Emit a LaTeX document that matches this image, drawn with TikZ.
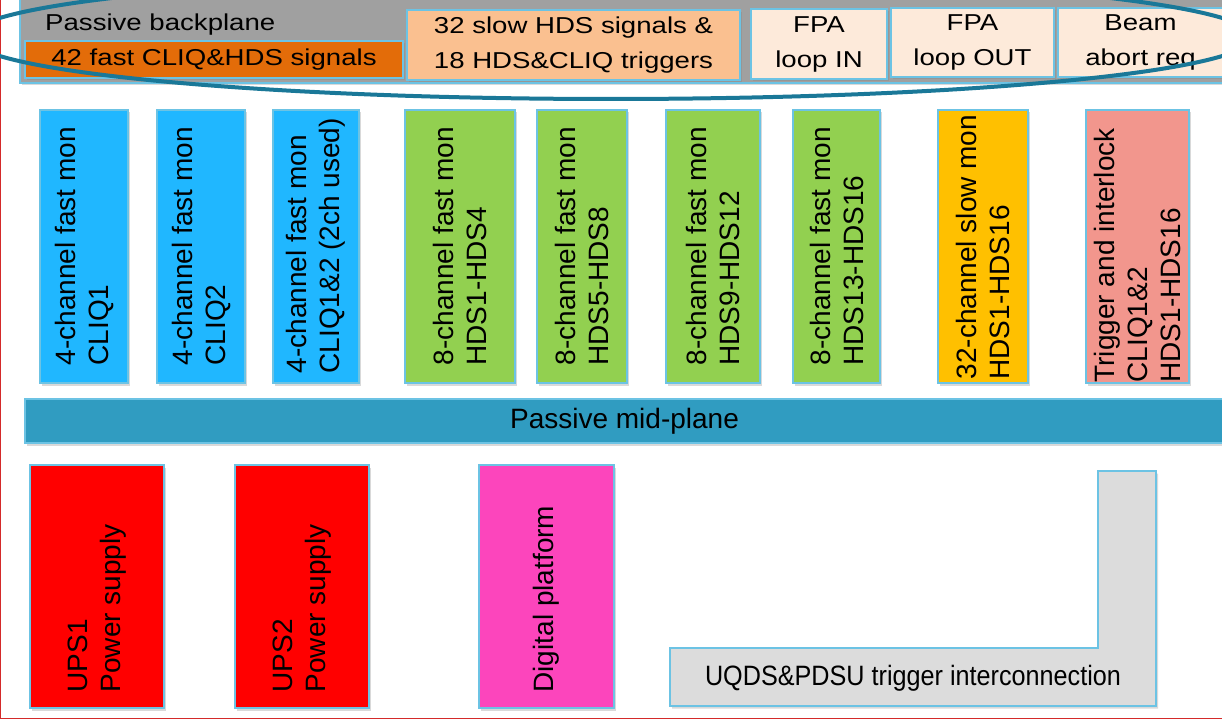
\documentclass[tikz,border=0pt]{standalone}
\usepackage{fontspec}
\setmainfont{Liberation Sans}
\newfontfamily\wideface[FakeStretch=1.2]{Liberation Sans}
\newfontfamily\narrowface[FakeStretch=0.9]{Liberation Sans}
\usetikzlibrary{calc, shadows}

\definecolor{edgeblue}{HTML}{6CC3E4}
\definecolor{framered}{HTML}{D42A2A}
\definecolor{bpgray}{HTML}{A0A0A0}
\definecolor{fastorange}{HTML}{E36C09}
\definecolor{slowpeach}{HTML}{FAC090}
\definecolor{palepeach}{HTML}{FDEADA}
\definecolor{cliqblue}{HTML}{20B7FF}
\definecolor{hdsgreen}{HTML}{92D050}
\definecolor{slowyellow}{HTML}{FFC000}
\definecolor{trigsalmon}{HTML}{F2968D}
\definecolor{midblue}{HTML}{309CC1}
\definecolor{upsred}{HTML}{FF0000}
\definecolor{digpink}{HTML}{FC45BC}
\definecolor{lgray}{HTML}{DCDCDC}
\definecolor{ringteal}{HTML}{1A7898}

\tikzset{
  frameline/.style={draw=framered, line width=1.5pt},
  panel/.style={draw=edgeblue, line width=1.3pt, inner sep=0pt,
    drop shadow={shadow xshift=2pt, shadow yshift=-2.5pt, opacity=0.3}},
  topbox/.style={panel, align=center, font=\wideface\fontsize{23}{35}\selectfont},
  module/.style={panel, minimum height=273},
  lowbox/.style={panel, minimum height=243},
  modlabel/.style={rotate=90, anchor=west, align=left, inner sep=0pt,
    font=\fontsize{28}{33}\selectfont},
  ringline/.style={draw=ringteal, line width=4pt}
}

\begin{document}
\begin{tikzpicture}[x=1pt, y=1pt]
\useasboundingbox (0,0) rectangle (1222,721);

% frame of the crate
\draw[frameline] (0.5,721) -- (0.5,2.5) -- (1222,2.5);

% passive backplane with its connectors
\node[panel, fill=bpgray, minimum width=1220, minimum height=107] (bp) at (630,691.5) {};
\node[anchor=base west, inner sep=0pt, font=\wideface\fontsize{23}{35}\selectfont] (bpt) at (45,690) {Passive backplane};
\node[topbox, fill=fastorange, minimum width=378, minimum height=37] (fast42) at (214,661.5) {42 fast CLIQ\&HDS signals};
\node[topbox, fill=slowpeach, minimum width=333, minimum height=70] (slow32) at (573.5,676) {32 slow HDS signals \&\\18 HDS\&CLIQ triggers};
\node[topbox, fill=palepeach, minimum width=136, minimum height=70] (fpain) at (819,677) {FPA\\loop IN};
\node[topbox, fill=palepeach, minimum width=163, minimum height=69] (fpaout) at (972.5,678.5) {FPA\\loop OUT};
\node[topbox, fill=palepeach, minimum width=165, minimum height=69] (beam) at (1140.5,678.5) {Beam\\abort req};

% monitoring boards
\node[module, fill=cliqblue, minimum width=88] (cliq1) at (84,474.5) {};
\node[module, fill=cliqblue, minimum width=88] (cliq2) at (201,474.5) {};
\node[module, fill=cliqblue, minimum width=86] (cliq12) at (316,474.5) {};
\node[module, fill=hdsgreen, minimum width=110] (hds1) at (460,474.5) {};
\node[module, fill=hdsgreen, minimum width=90] (hds5) at (582,474.5) {};
\node[module, fill=hdsgreen, minimum width=94] (hds9) at (713,474.5) {};
\node[module, fill=hdsgreen, minimum width=87] (hds13) at (836.5,474.5) {};
\node[module, fill=slowyellow, minimum width=90] (slow) at (983,474.5) {};
\node[module, fill=trigsalmon, minimum width=103] (trig) at (1137.5,474.5) {};

\node[modlabel] (cliq1t) at ($(cliq1.south)+(0,18)$) {4-channel fast mon\\CLIQ1};
\node[modlabel] (cliq2t) at ($(cliq2.south)+(0,18)$) {4-channel fast mon\\CLIQ2};
\node[modlabel] (cliq12t) at ($(cliq12.south)+(0,10)$) {4-channel fast mon\\CLIQ1\&2 (2ch used)};
\node[modlabel] (hds1t) at ($(hds1.south)+(0,18)$) {8-channel fast mon\\HDS1-HDS4};
\node[modlabel] (hds5t) at ($(hds5.south)+(0,18)$) {8-channel fast mon\\HDS5-HDS8};
\node[modlabel] (hds9t) at ($(hds9.south)+(0,18)$) {8-channel fast mon\\HDS9-HDS12};
\node[modlabel] (hds13t) at ($(hds13.south)+(0,18)$) {8-channel fast mon\\HDS13-HDS16};
\node[modlabel] (slowt) at ($(slow.south)+(0,4)$) {32-channel slow mon\\HDS1-HDS16};
\node[modlabel] (trigt) at ($(trig.south)+(0,1)$) {Trigger and interlock\\CLIQ1\&2\\HDS1-HDS16};

% mid-plane
\node[panel, fill=midblue, minimum width=1199, minimum height=44, font=\fontsize{28}{33}\selectfont] (mid) at (624.5,300) {Passive mid-plane};

% power, digital platform and trigger interconnection
\node[lowbox, fill=upsred, minimum width=134] (ups1) at (97,134.5) {};
\node[lowbox, fill=upsred, minimum width=134] (ups2) at (302,134.5) {};
\node[lowbox, fill=digpink, minimum width=135] (dig) at (546.5,134.5) {};
\node[modlabel] (ups1t) at ($(ups1.south)+(0,16)$) {UPS1\\Power supply};
\node[modlabel] (ups2t) at ($(ups2.south)+(0,16)$) {UPS2\\Power supply};
\node[modlabel] (digt) at ($(dig.south)+(0,16)$) {Digital platform};

\draw[panel, fill=lgray] (670,15) -- (1156,15) -- (1156,250) -- (1098,250) -- (1098,73) -- (670,73) -- cycle;
\node[inner sep=0pt, font=\narrowface\fontsize{28}{33}\selectfont] (uqds) at (913,43) {UQDS\&PDSU trigger interconnection};

% connector ring
\draw[ringline] (611,684) ellipse [x radius=642, y radius=62];
\end{tikzpicture}
\end{document}
